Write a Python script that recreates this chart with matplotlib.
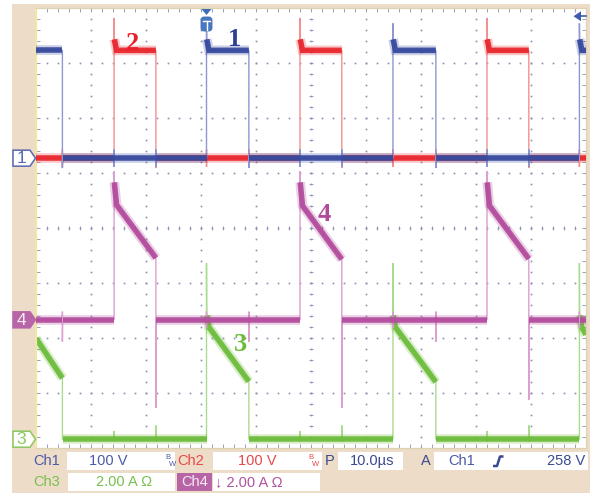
import numpy as np
import matplotlib
matplotlib.use("Agg")
import matplotlib.pyplot as plt
from matplotlib.patches import Polygon, Rectangle, FancyBboxPatch
from matplotlib.collections import LineCollection
from matplotlib import font_manager

## scope screen: 10 div x 8 div, 10 us/div -> 0..100 us
T_SPAN = 100.0

## Ch1 (blue) / Ch2 (red) voltages, 100 V/div, edge times in us
ch1_rise_us = [31.0, 64.9, 98.8]
ch1_fall_us = [4.8, 38.7, 72.7]
ch2_rise_us = [14.2, 48.0, 82.0]
ch2_fall_us = [21.8, 55.6, 89.6]
ch1_high_v = 196
ch2_high_v = 196
ch1_peak_v = 245     # overshoot spike at turn-on
ch2_peak_v = 255
ch12_ring_v = 216    # start of the decaying ring
ch12_dip_v = -18     # dip at turn-off
ch12_blip_v = 16     # crosstalk on the low level
trig_level_v = 258

## Ch3 (green) current, 2 A/div, one entry per blue pulse
ch3_on_us = [0.0, 31.0, 64.9, 98.8]
ch3_off_us = [4.8, 38.7, 72.7, 100.0]
ch3_top_a = [3.67, 4.07, 4.07, 4.07]
ch3_end_a = [2.22, 2.10, 2.08, 3.80]
ch3_spike_a = [0.0, 6.4, 6.4, 6.4]
ch3_knee_a = 4.5

## Ch4 (magenta) current, 2 A/div, one entry per red pulse
ch4_on_us = [14.2, 48.0, 82.0]
ch4_off_us = [21.8, 55.6, 89.6]
ch4_top_a = [4.18, 4.15, 4.15]
ch4_end_a = [2.25, 2.20, 2.22]
ch4_spike_a = [5.4, 5.4, 5.4]
ch4_knee_a = 5.0
ch4_under_a = [-3.2, -3.2, -2.9]

## ground marker positions (div from centre)
ch1_gnd = 1.27
ch2_gnd = 1.27
ch4_gnd = -1.67
ch3_gnd = -3.84

W, H = 594, 493
BEIGE = "#ecdcc8"
GRID = "#8a90b0"
BLUE, BLUE_L = "#34489c", "#9096d0"
RED, RED_L = "#e8242c", "#f49090"
MAG, MAG_L = "#b24a9c", "#dba0d0"
GRN, GRN_L = "#6cbc3a", "#aadc8e"

names = {f.name for f in font_manager.fontManager.ttflist}
SANS = "Liberation Sans" if "Liberation Sans" in names else "DejaVu Sans"
FS = 10.5
SERIF = "Liberation Serif" if "Liberation Serif" in names else "DejaVu Serif"


def voltage_trace(rise, fall, other, high, peak, start_high):
    ev = sorted([(t, "r") for t in rise] + [(t, "f") for t in fall] + [(t, "b") for t in other])
    lvl = high if start_high else 0
    pts = [(0.0, lvl)]
    for t, k in ev:
        if k == "r":
            pts += [(t, 0), (t, peak), (t + 0.04, ch12_ring_v), (t + 0.45, high)]
            lvl = high
        elif k == "f":
            pts += [(t, high), (t, ch12_dip_v), (t + 0.04, 0)]
            lvl = 0
        elif lvl == 0:
            pts += [(t, 0), (t, ch12_blip_v), (t, -ch12_blip_v), (t + 0.04, 0)]
    pts.append((T_SPAN, lvl))
    return np.array(pts, dtype=float)


def current_trace(on, off, top, end, spike, knee, under, blips):
    ev = [(t, "on", i) for i, t in enumerate(on)] + [(t, "off", i) for i, t in enumerate(off)]
    ev += [(t, "b", (up, dn)) for t, up, dn in blips]
    ev.sort(key=lambda e: e[0])
    pts = []
    lvl_on = False
    for t, k, i in ev:
        if k == "on":
            if t <= 0:
                pts.append((0.0, top[i]))
            else:
                pts += [(t, 0), (t, spike[i]), (t + 0.04, knee), (t + 0.45, top[i])]
            lvl_on = True
        elif k == "off":
            if t >= T_SPAN:
                pts.append((T_SPAN, end[i]))
            else:
                u = under[i] if under is not None else 0
                pts += [(t, end[i]), (t, u), (t + 0.04, 0)]
            lvl_on = False
        elif not lvl_on:
            pts += [(t, 0), (t, i[0]), (t, i[1]), (t + 0.04, 0)]
    if not pts or pts[0][0] > 0:
        pts.insert(0, (0.0, 0))
    if pts[-1][0] < T_SPAN:
        pts.append((T_SPAN, 0 if not lvl_on else pts[-1][1]))
    return np.array(pts, dtype=float)


def draw_trace(ax, pts, gnd, scale, col, col_l, z):
    t = pts[:, 0]
    y = gnd + pts[:, 1] / scale
    ax.plot(t, y, color=col_l, lw=1.0, zorder=z, solid_joinstyle="miter")
    # thick noisy band on the slow parts
    run = []
    runs = []
    for i in range(len(t) - 1):
        if t[i + 1] - t[i] > 0.05:
            if not run:
                run = [i]
            run.append(i + 1)
        else:
            if run:
                runs.append(run)
            run = []
    if run:
        runs.append(run)
    for r in runs:
        ax.plot(t[r], y[r], color=col, lw=7.0, alpha=0.25, zorder=z + 0.1,
                solid_capstyle="butt", solid_joinstyle="miter")
        ax.plot(t[r], y[r], color=col, lw=4.0, alpha=0.92, zorder=z + 0.2,
                solid_capstyle="butt", solid_joinstyle="miter")


fig = plt.figure(figsize=(W / 100, H / 100), dpi=100)
fig.patch.set_facecolor("white")

bg = fig.add_axes([0, 0, 1, 1])
bg.set_xlim(0, W)
bg.set_ylim(H, 0)
bg.axis("off")
bg.add_patch(Rectangle((12, 4), 578, H - 4, color=BEIGE, lw=0))

ax = fig.add_axes([36 / W, (H - 448) / H, 550 / W, 440 / H])
ax.set_xlim(0, T_SPAN)
ax.set_ylim(-4, 4)
ax.set_facecolor("white")
ax.set_xticks([])
ax.set_yticks([])
for s in ax.spines.values():
    s.set_color("#ddd3b0")
    s.set_linewidth(0.9)
ax.spines["left"].set_color("#efe6a8")
ax.spines["left"].set_linewidth(1.6)

## graticule: dotted lines, 5 minor steps per division
dots_x, dots_y = [], []
yy = np.arange(-4, 4.001, 0.2)
xx = np.arange(0, 100.001, 2.0)
for gx in range(10, 100, 10):
    dots_x += [gx] * len(yy)
    dots_y += list(yy)
for gy in range(-3, 4):
    dots_x += list(xx)
    dots_y += [gy] * len(xx)
ax.plot(dots_x, dots_y, ls="none", marker="s", ms=1.2, mew=0, color=GRID, zorder=1)
ticks = []
for v in xx:
    ticks.append([(v, -0.045), (v, 0.045)])
    ticks.append([(v, 4), (v, 3.93)])
    ticks.append([(v, -4), (v, -3.93)])
for v in yy:
    ticks.append([(49.55, v), (50.45, v)])
    ticks.append([(0, v), (0.7, v)])
    ticks.append([(100, v), (99.3, v)])
ax.add_collection(LineCollection(ticks, colors=GRID, linewidths=0.6, zorder=1))

## traces
ch1 = voltage_trace(ch1_rise_us, ch1_fall_us, ch2_rise_us + ch2_fall_us, ch1_high_v, ch1_peak_v, True)
ch2 = voltage_trace(ch2_rise_us, ch2_fall_us, ch1_rise_us + ch1_fall_us, ch2_high_v, ch2_peak_v, False)
ch3_blips = [(t, 0.3, -0.1) for t in ch2_rise_us] + [(t, 0.5, -0.1) for t in ch2_fall_us]
ch4_blips = [(t, 0.3, -0.3) for t in ch1_rise_us] + [(t, 0.3, -0.8) for t in ch1_fall_us]
ch3 = current_trace(ch3_on_us, ch3_off_us, ch3_top_a, ch3_end_a, ch3_spike_a, ch3_knee_a, None, ch3_blips)
ch4 = current_trace(ch4_on_us, ch4_off_us, ch4_top_a, ch4_end_a, ch4_spike_a, ch4_knee_a, ch4_under_a, ch4_blips)

draw_trace(ax, ch3, ch3_gnd, 2.0, GRN, GRN_L, 2)
draw_trace(ax, ch4, ch4_gnd, 2.0, MAG, MAG_L, 3)
draw_trace(ax, ch2, ch2_gnd, 100.0, RED, RED_L, 4)
draw_trace(ax, ch1, ch1_gnd, 100.0, BLUE, BLUE_L, 5)

## trace labels
lab = dict(fontsize=19, fontweight="bold", family=SERIF, ha="center", va="center", zorder=8)
ax.text(17.6, 3.36, "2", color="#e8202a", **lab)
ax.text(36.0, 3.42, "1", color="#2c3f94", **lab)
ax.text(52.4, 0.24, "4", color=MAG, **lab)
ax.text(37.1, -2.12, "3", color=GRN, **lab)

fg = fig.add_axes([0, 0, 1, 1])
fg.set_xlim(0, W)
fg.set_ylim(H, 0)
fg.axis("off")
fg.patch.set_alpha(0)


def to_px(t, d):
    x, y = ax.transData.transform((t, d))
    return x, H - y


def ch_marker(d, label, face, edge, tcol):
    _, yc = to_px(0, d)
    fg.add_patch(Polygon([(13, yc - 8), (30, yc - 8), (35.5, yc), (30, yc + 8), (13, yc + 8)],
                         closed=True, fc=face, ec=edge, lw=1.1, zorder=5))
    fg.text(21.5, yc + 0.5, label, color=tcol, fontsize=12.5, family=SANS,
            ha="center", va="center", zorder=6)


ch_marker(ch1_gnd, "1", "white", "#5a66b0", "#5a66b0")
ch_marker(ch4_gnd, "4", "#b865a8", "#b865a8", "#f6ecf2")
ch_marker(ch3_gnd, "3", "white", "#8cc860", "#8cc860")

## trigger position marker and trigger level marker
tx, _ = to_px(ch1_rise_us[0], 0)
fg.add_patch(Polygon([(tx - 5, 9), (tx + 5, 9), (tx, 15)], closed=True, fc="#3d6cb8", lw=0, zorder=7))
fg.add_patch(FancyBboxPatch((tx - 5.5, 17), 11, 14, boxstyle="round,pad=0,rounding_size=3",
                            fc="#4a78c0", ec="#3d6cb8", lw=0.6, zorder=7))
fg.plot([tx - 3.5, tx + 3.5], [20.5, 20.5], color="white", lw=1.0, zorder=8)
fg.plot([tx, tx], [20.5, 30], color="white", lw=1.0, zorder=8)
_, ty = to_px(100, ch1_gnd + trig_level_v / 100.0)
fg.add_patch(Polygon([(573.5, ty), (581, ty - 5), (581, ty + 5)], closed=True, fc="#3d5cb0", lw=0, zorder=7))
fg.plot([581, 586], [ty, ty], color="#3d5cb0", lw=1.2, zorder=7)

## status bar
def box(x0, x1, y0, y1, fc="white"):
    fg.add_patch(Rectangle((x0, y0), x1 - x0, y1 - y0, fc=fc, lw=0, zorder=2))


def stxt(x, y, s, col, ha="left", fs=FS):
    fg.text(x, y, s, color=col, fontsize=fs, family=[SANS, "DejaVu Sans"],
            ha=ha, va="center", zorder=3)


R1, R2 = 461, 482.5
box(67, 175, 452, 470)
box(213, 322, 452, 470)
box(338, 403, 452, 470)
box(434, 588, 452, 470)
box(68, 175, 473, 491)
box(177, 212, 473, 491, fc="#b865a8")
box(213, 320, 473, 491)

stxt(33, R1, "Ch1", "#4a5aa8")
stxt(108, R1, "100 V", "#4a5aa8", ha="center")
fg.text(165, 457.5, "B", color="#4a5aa8", fontsize=5.5, family=SANS, ha="left", va="center", zorder=3)
fg.text(169, 464.5, "W", color="#4a5aa8", fontsize=5.5, family=SANS, ha="left", va="center", zorder=3)
stxt(177, R1, "Ch2", "#e84848")
stxt(257, R1, "100 V", "#e84848", ha="center")
fg.text(308, 457.5, "B", color="#e84848", fontsize=5.5, family=SANS, ha="left", va="center", zorder=3)
fg.text(312, 464.5, "W", color="#e84848", fontsize=5.5, family=SANS, ha="left", va="center", zorder=3)
stxt(325, R1, "P", "#3a4a90")
stxt(372, R1, "10.0\u00b5s", "#3a4a90", ha="center")
stxt(421, R1, "A", "#3a4a90")
stxt(448, R1, "Ch1", "#4a5aa8")
fg.plot([493, 497, 500, 503.5], [466, 466, 456.5, 456.5], color="#3a4a90", lw=1.8,
        solid_capstyle="butt", zorder=3)
stxt(585, R1, "258 V", "#3a4a90", ha="right")

stxt(33, R2, "Ch3", "#78c050")
stxt(124, R2, "2.00 A \u03a9", "#78c050", ha="center")
stxt(194.5, R2, "Ch4", "#f6ecf2", ha="center")
stxt(215, R2, "\u2193 2.00 A \u03a9", "#b050a0")

fig.savefig("out.png", dpi=100)
